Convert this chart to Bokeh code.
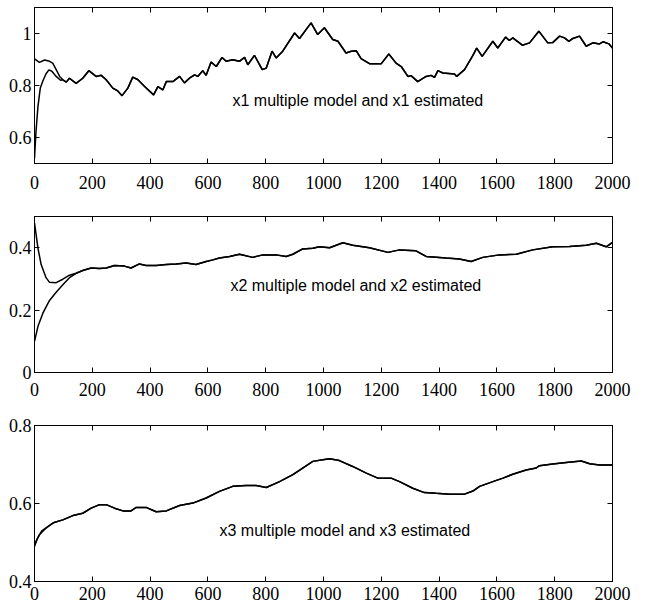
from bokeh.plotting import figure
from bokeh.layouts import column
from bokeh.models import Range1d, LinearAxis, Label, FixedTicker
from bokeh.embed import file_html
from bokeh.resources import INLINE

# ---------------- data ----------------
x_ticks = [0, 200, 400, 600, 800, 1000, 1200, 1400, 1600, 1800, 2000]

# panel 1 : x1
x1_t = [0, 17, 35, 52, 63, 75, 87, 98, 110, 121, 144, 167, 188, 213, 231, 248, 271, 288, 303,
        323, 340, 358, 381, 412, 427, 444, 456, 479, 502, 519, 536, 554, 565, 582, 594, 611,
        629, 649, 663, 686, 709, 727, 738, 761, 788, 802, 822, 836, 859, 900, 917, 957, 980,
        1003, 1032, 1050, 1078, 1096, 1113, 1130, 1159, 1200, 1226, 1251, 1269, 1292, 1303,
        1326, 1355, 1372, 1384, 1396, 1413, 1453, 1461, 1488, 1517, 1530, 1549, 1586, 1603,
        1630, 1643, 1655, 1688, 1713, 1745, 1776, 1793, 1817, 1834, 1849, 1863, 1886, 1909,
        1932, 1955, 1967, 1988, 2000]
x1_model = [0.902, 0.889, 0.898, 0.893, 0.886, 0.861, 0.835, 0.822, 0.813, 0.828, 0.808, 0.828,
            0.857, 0.835, 0.839, 0.822, 0.790, 0.779, 0.761, 0.790, 0.832, 0.822, 0.796, 0.764,
            0.796, 0.783, 0.815, 0.815, 0.835, 0.810, 0.828, 0.841, 0.835, 0.857, 0.839, 0.890,
            0.873, 0.908, 0.893, 0.899, 0.893, 0.908, 0.880, 0.916, 0.861, 0.867, 0.932, 0.906,
            0.932, 1.002, 0.981, 1.041, 0.996, 1.022, 0.977, 0.970, 0.925, 0.932, 0.934, 0.903,
            0.884, 0.884, 0.921, 0.886, 0.873, 0.835, 0.838, 0.815, 0.835, 0.839, 0.831, 0.857,
            0.848, 0.844, 0.835, 0.861, 0.916, 0.944, 0.912, 0.970, 0.944, 0.986, 0.973, 0.983,
            0.955, 0.964, 1.009, 0.964, 0.965, 0.990, 0.983, 0.970, 0.981, 0.990, 0.951, 0.964,
            0.960, 0.968, 0.960, 0.944]
x1_est_head_t = [0, 5, 12, 20, 30, 40, 50, 60, 75, 90]
x1_est_head = [0.52, 0.62, 0.72, 0.79, 0.82, 0.845, 0.86, 0.855, 0.835, 0.82]
x1_merge_t = 98

# panel 2 : x2
x2_t = [0, 12, 23, 40, 52, 75, 98, 121, 144, 167, 196, 225, 248, 277, 311, 334, 363, 386, 421,
        456, 490, 525, 559, 594, 617, 640, 675, 709, 755, 790, 836, 871, 894, 928, 963, 986,
        1021, 1067, 1101, 1159, 1223, 1263, 1320, 1355, 1424, 1470, 1511, 1551, 1609, 1667,
        1724, 1793, 1851, 1909, 1944, 1978, 2000]
x2_model = [0.48, 0.398, 0.346, 0.304, 0.289, 0.288, 0.299, 0.312, 0.318, 0.327, 0.335, 0.333,
            0.335, 0.343, 0.341, 0.335, 0.348, 0.343, 0.343, 0.346, 0.348, 0.351, 0.346, 0.356,
            0.361, 0.367, 0.372, 0.379, 0.369, 0.377, 0.377, 0.372, 0.379, 0.396, 0.398, 0.403,
            0.400, 0.416, 0.408, 0.400, 0.385, 0.393, 0.390, 0.372, 0.367, 0.364, 0.356, 0.369,
            0.377, 0.379, 0.393, 0.403, 0.404, 0.408, 0.414, 0.403, 0.417]
x2_est_head_t = [0, 12, 29, 52, 75, 98, 121]
x2_est_head = [0.10, 0.148, 0.19, 0.231, 0.257, 0.281, 0.304]
x2_merge_t = 144

# panel 3 : x3
x3_t = [0, 17, 40, 63, 98, 133, 167, 196, 225, 248, 277, 306, 334, 352, 386, 421, 456, 502,
        548, 594, 640, 686, 732, 767, 802, 848, 894, 928, 963, 998, 1021, 1055, 1101, 1148,
        1188, 1234, 1263, 1309, 1349, 1390, 1436, 1488, 1517, 1540, 1586, 1621, 1655, 1701,
        1736, 1747, 1793, 1840, 1892, 1921, 1955, 2000]
x3_model = [0.495, 0.520, 0.537, 0.550, 0.558, 0.569, 0.575, 0.588, 0.597, 0.597, 0.588, 0.581,
            0.581, 0.590, 0.590, 0.579, 0.581, 0.595, 0.601, 0.614, 0.631, 0.644, 0.646, 0.646,
            0.641, 0.656, 0.674, 0.691, 0.708, 0.712, 0.715, 0.710, 0.695, 0.678, 0.665, 0.665,
            0.656, 0.639, 0.628, 0.626, 0.624, 0.624, 0.632, 0.644, 0.656, 0.665, 0.675, 0.686,
            0.691, 0.697, 0.701, 0.705, 0.709, 0.702, 0.699, 0.699]
x3_est_head_t = [0, 10, 25, 45, 70, 98]
x3_est_head = [0.49, 0.51, 0.53, 0.54, 0.552, 0.558]
x3_merge_t = 133

panels = [
    dict(t=x1_t, m=x1_model, ht=x1_est_head_t, h=x1_est_head, mt=x1_merge_t,
         yr=(0.5, 1.1), yt=[0.6, 0.8, 1.0], text="x1 multiple model and x1 estimated",
         tx=685, ty=0.742, bt=7, bb=53, so=12),
    dict(t=x2_t, m=x2_model, ht=x2_est_head_t, h=x2_est_head, mt=x2_merge_t,
         yr=(0.0, 0.5), yt=[0, 0.2, 0.4], text="x2 multiple model and x2 estimated",
         tx=678, ty=0.279, bt=0, bb=43, so=10),
    dict(t=x3_t, m=x3_model, ht=x3_est_head_t, h=x3_est_head, mt=x3_merge_t,
         yr=(0.4, 0.8), yt=[0.4, 0.6, 0.8], text="x3 multiple model and x3 estimated",
         tx=640, ty=0.530, bt=10, bb=20, so=5),
]

TICK_FONT = "Liberation Serif"


def style_axis(ax, ticks, show_labels=True, standoff=6):
    ax.ticker = FixedTicker(ticks=ticks)
    ax.major_tick_in = 5
    ax.major_tick_out = 0
    ax.minor_tick_in = 0
    ax.minor_tick_out = 0
    ax.axis_line_color = "black"
    ax.major_tick_line_color = "black"
    ax.axis_line_width = 1
    if show_labels:
        ax.major_label_text_font = TICK_FONT
        ax.major_label_text_font_size = "18px"
        ax.major_label_text_color = "black"
        ax.major_label_standoff = standoff
    else:
        ax.major_label_overrides = {t: "" for t in ticks}
        ax.major_label_standoff = 0


figs = []
for i, pn in enumerate(panels):
    p = figure(frame_width=578, frame_height=156,
               x_range=Range1d(0, 2000), y_range=Range1d(*pn["yr"]),
               output_backend="svg", toolbar_location=None,
               min_border_left=34, min_border_right=22,
               min_border_top=pn["bt"], min_border_bottom=pn["bb"])
    p.grid.visible = False
    p.outline_line_color = "black"
    p.background_fill_color = "white"
    p.border_fill_color = "white"

    style_axis(p.xaxis[0], x_ticks, standoff=pn["so"])
    style_axis(p.yaxis[0], pn["yt"], standoff=3)
    p.yaxis[0].major_label_overrides = {v: ("%g" % v) for v in pn["yt"]}

    top = LinearAxis()
    style_axis(top, x_ticks, show_labels=False)
    p.add_layout(top, "above")
    right = LinearAxis()
    style_axis(right, pn["yt"], show_labels=False)
    p.add_layout(right, "right")

    # model trajectory
    p.line(pn["t"], pn["m"], line_color="black", line_width=1.5)
    # estimated trajectory: own transient then follows the model
    et = list(pn["ht"]) + [t for t in pn["t"] if t >= pn["mt"]]
    ev = list(pn["h"]) + [v for t, v in zip(pn["t"], pn["m"]) if t >= pn["mt"]]
    p.line(et, ev, line_color="black", line_width=1.5)

    p.add_layout(Label(x=pn["tx"], y=pn["ty"], text=pn["text"],
                       text_font="Liberation Sans", text_font_size="16px",
                       text_baseline="middle", text_align="left", text_color="black"))
    figs.append(p)

layout = column(*figs, spacing=0)
open("out.html", "w").write(file_html(layout, INLINE))
